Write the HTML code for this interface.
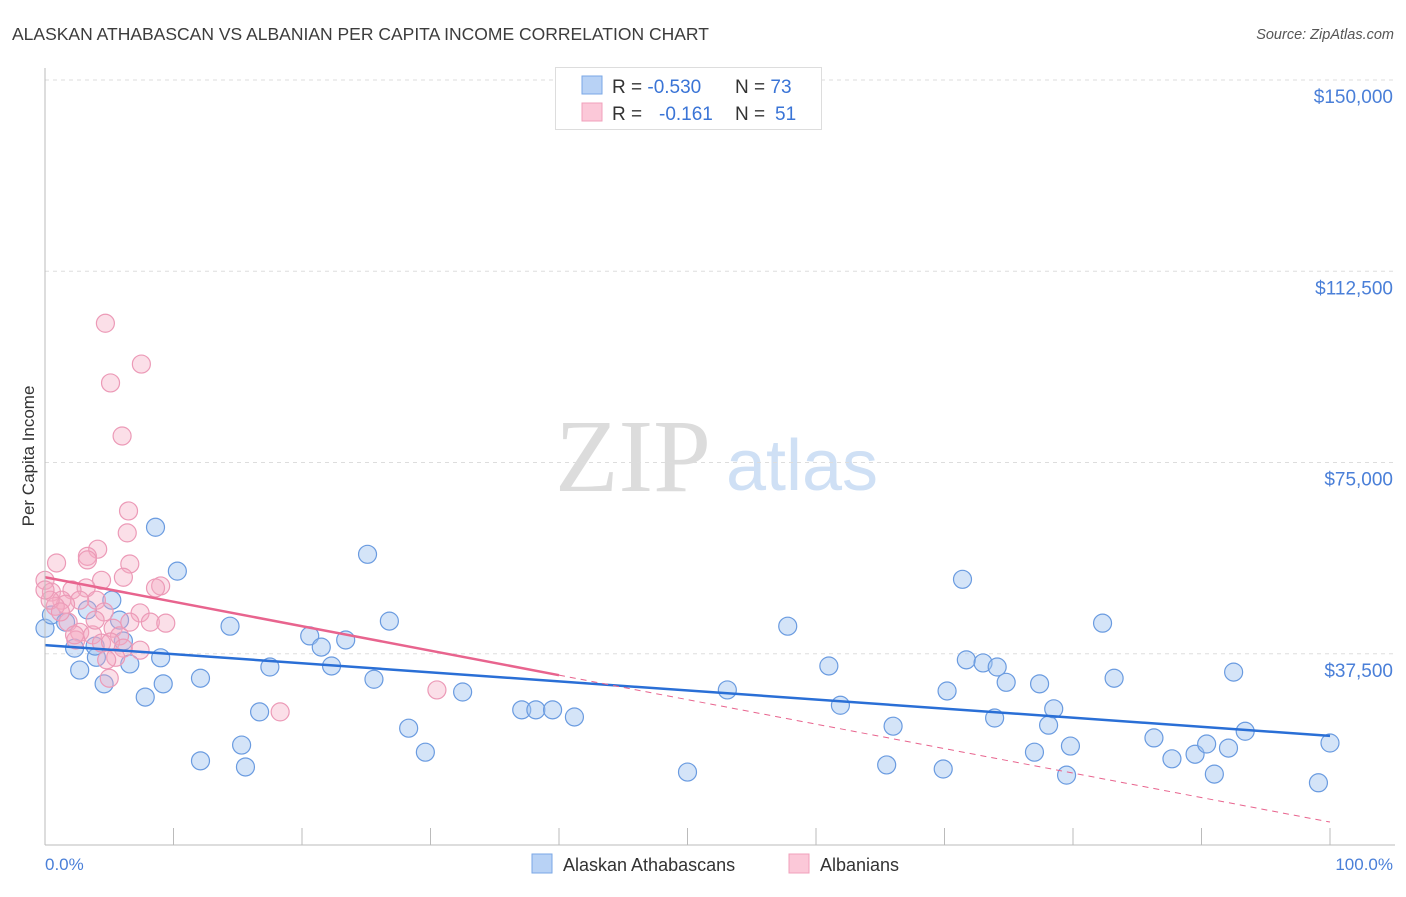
<!DOCTYPE html>
<html><head><meta charset="utf-8"><style>
body{margin:0;background:#fff;font-family:"Liberation Sans",sans-serif}
svg text{font-family:"Liberation Sans",sans-serif}
</style></head><body>
<svg id="c" width="1406" height="892" xmlns="http://www.w3.org/2000/svg">
<text x="12" y="40" font-size="17.5" fill="#3c3c3c">ALASKAN ATHABASCAN VS ALBANIAN PER CAPITA INCOME CORRELATION CHART</text>
<text x="1394" y="39" font-size="14.5" fill="#555" font-style="italic" text-anchor="end">Source: ZipAtlas.com</text>
<text x="34" y="456" font-size="17" fill="#333" text-anchor="middle" transform="rotate(-90 34 456)">Per Capita Income</text>
<g><text x="633" y="491" font-size="104" fill="#dcdcdc" text-anchor="middle" style="font-family:'Liberation Serif',serif">ZIP</text><text x="802" y="490" font-size="72" fill="#cfe0f5" text-anchor="middle">atlas</text></g>
<g id="grid"></g><g id="marks"></g><g id="trends"></g>
<line x1="45" y1="68" x2="45" y2="845" stroke="#bbb"/>
<line x1="45" y1="845" x2="1395" y2="845" stroke="#bbb"/>
<text x="45" y="870" font-size="17" fill="#4a7fd8">0.0%</text>
<text x="1393" y="870" font-size="17" fill="#4a7fd8" text-anchor="end">100.0%</text>
<g>
<rect x="555.5" y="67.5" width="266" height="62" fill="#fff" stroke="#ddd"/>
<rect x="582" y="76" width="20" height="18" fill="#b8d2f5" stroke="#7aa7e6"/>
<rect x="582" y="103" width="20" height="18" fill="#fbc8d8" stroke="#f0a0bb"/>
<text x="612" y="93" font-size="19" fill="#333">R = <tspan fill="#3a74d6">-0.530</tspan><tspan x="735">N = </tspan><tspan fill="#3a74d6">73</tspan></text>
<text x="612" y="120" font-size="19" fill="#333">R = <tspan x="659" fill="#3a74d6">-0.161</tspan><tspan x="735">N = </tspan><tspan x="775" fill="#3a74d6">51</tspan></text>
</g>
<g>
<rect x="532" y="854" width="20" height="19" fill="#b8d2f5" stroke="#7aa7e6"/>
<text x="563" y="871" font-size="18" fill="#333">Alaskan Athabascans</text>
<rect x="789" y="854" width="20" height="19" fill="#fbc8d8" stroke="#f0a0bb"/>
<text x="820" y="871" font-size="18" fill="#333">Albanians</text>
</g>
</svg>
<script>
const yTicks=[37500,75000,112500,150000];
const yTickLabels=["$37,500","$75,000","$112,500","$150,000"];
const xTicks=[0,10,20,30,40,50,60,70,80,90,100];
const blueX=[0,0.5,1.6,2.3,2.7,3.3,4.0,3.9,4.6,5.2,5.8,6.1,6.6,7.8,8.6,9.0,9.2,10.3,12.1,12.1,14.4,15.3,15.6,16.7,17.5,20.6,21.5,22.3,23.4,25.1,25.6,26.8,28.3,29.6,32.5,37.1,38.2,39.5,41.2,50.0,53.1,57.8,61.0,61.9,65.5,66.0,69.9,70.2,71.4,71.7,73.0,74.1,73.9,74.8,77.0,77.4,78.1,78.5,79.5,79.8,82.3,83.2,86.3,87.7,89.5,90.4,91.0,92.1,92.5,93.4,99.1,100];
const blueY=[42500,45100,43700,38600,34300,46100,36800,39000,31600,48000,44100,40000,35500,29000,62300,36700,31600,53700,32700,16500,42900,19600,15300,26100,34900,41000,38800,35100,40200,57000,32500,43900,22900,18200,30000,26500,26500,26500,25100,14300,30400,42900,35100,27400,15700,23300,14900,30200,52100,36300,35700,34900,24900,31900,18200,31600,23500,26700,13700,19400,43500,32700,21000,16900,17800,19800,13900,19000,33900,22300,12200,20000];
const pinkX=[4.7,7.5,5.1,6.0,6.5,6.4,4.1,3.3,0.9,6.6,3.3,6.1,4.4,0,9.0,8.6,3.2,2.1,0.5,1.3,4.0,2.7,1.6,0.8,7.4,4.6,8.2,9.4,1.8,5.3,2.7,3.7,5.8,4.4,5.1,2.4,6.1,7.4,5.5,5.0,30.5,18.3,0.4,0,1.2,2.3,6.6,4.8,3.9];
const pinkY=[102300,94300,90600,80200,65500,61200,58000,56600,55300,55100,55900,52500,51900,51900,50800,50400,50400,50000,49600,48000,48000,48000,47200,46800,45500,45700,43700,43500,43700,42500,41700,41200,41000,39600,39800,40200,38600,38200,36800,32700,30400,26100,48000,50000,45700,41200,43700,36300,44100];
const blueTrend=[39200,21400];
const pinkTrend=[52500,4500];
const pinkSolidEnd=40;
const NS="http://www.w3.org/2000/svg";
const sx=p=>45+p*12.85, sy=v=>845-v*191.25/37500;
function mk(t,a,p){const e=document.createElementNS(NS,t);for(const k in a)e.setAttribute(k,a[k]);p.appendChild(e);return e;}
const grid=document.getElementById('grid');
yTicks.forEach((v,i)=>{
 const l=mk('line',{x1:45,x2:1395,y1:sy(v),y2:sy(v),stroke:'#ddd','stroke-dasharray':'4 4'},grid);
 
 
 const t=mk('text',{x:1393,y:sy(v)+23,'font-size':19,fill:'#4a7fd8','text-anchor':'end'},grid);
 t.textContent=yTickLabels[i];
 
 
});
xTicks.forEach(p=>{
 const l=mk('line',{x1:sx(p),x2:sx(p),y1:828,y2:845,stroke:'#bbb'},grid);
 
 
});
const marks=document.getElementById('marks');
blueX.forEach((p,i)=>{
 const c=mk('circle',{cx:sx(p),cy:sy(blueY[i]),r:9,fill:'rgba(160,195,240,0.45)',stroke:'#6a9be0','stroke-width':1.2},marks);
 
 
});
pinkX.forEach((p,i)=>{
 const c=mk('circle',{cx:sx(p),cy:sy(pinkY[i]),r:9,fill:'rgba(245,170,195,0.38)',stroke:'#ec9ab7','stroke-width':1.2},marks);
 
 
});
const tr=document.getElementById('trends');
const bl=mk('line',{x1:sx(0),y1:sy(blueTrend[0]),x2:sx(100),y2:sy(blueTrend[1]),stroke:'#2a6fd6','stroke-width':2.5},tr);


const pm=pinkTrend[0]+(pinkTrend[1]-pinkTrend[0])*pinkSolidEnd/100;
const pl=mk('line',{x1:sx(0),y1:sy(pinkTrend[0]),x2:sx(pinkSolidEnd),y2:sy(pm),stroke:'#e8648e','stroke-width':2.5},tr);


const pd=mk('line',{x1:sx(pinkSolidEnd),y1:sy(pm),x2:sx(100),y2:sy(pinkTrend[1]),stroke:'#e8648e','stroke-width':1,'stroke-dasharray':'6 5'},tr);


</script>
</body></html>
